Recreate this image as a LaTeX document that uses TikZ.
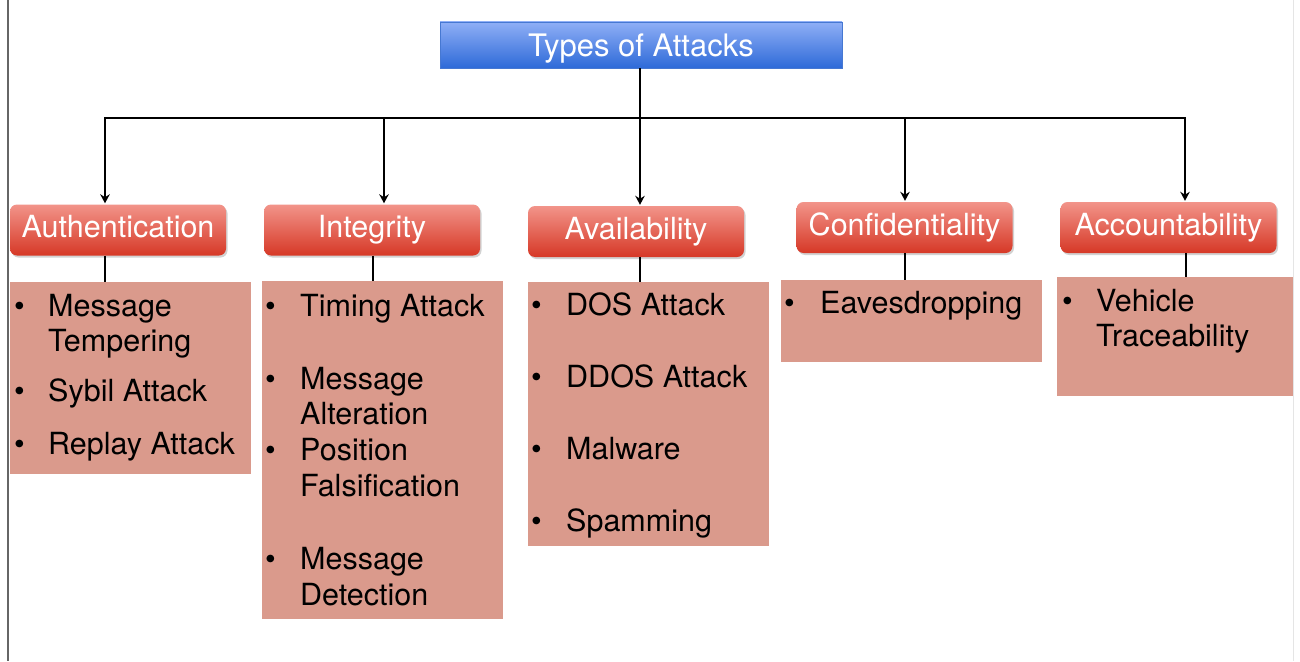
\documentclass[tikz,border=0pt]{standalone}
\usepackage{fontspec}
\setmainfont{TeX Gyre Heros}
\usetikzlibrary{arrows.meta,shadows,calc}
\definecolor{listfill}{RGB}{218,154,140}
\definecolor{redtop}{RGB}{242,148,138}
\definecolor{redbot}{RGB}{214,56,38}
\definecolor{bluetop}{RGB}{143,175,246}
\definecolor{bluebot}{RGB}{46,106,216}
\definecolor{blueedge}{RGB}{70,120,210}
\tikzset{
  titlebox/.style={rectangle, draw=blueedge, line width=0.8pt, top color=bluetop, bottom color=bluebot,
    minimum width=402pt, minimum height=46pt, inner sep=0pt, text=white,
    text height=22.5pt, text depth=0pt, font=\fontsize{31}{36}\selectfont},
  catbox/.style={rectangle, rounded corners=7pt, top color=redtop, bottom color=redbot,
    minimum width=216pt, minimum height=51pt, inner sep=0pt, text=white,
    text height=23pt, text depth=7.5pt, font=\fontsize{30.5}{36}\selectfont,
    drop shadow={shadow xshift=1.5pt, shadow yshift=-2pt, opacity=0.35}},
  listbox/.style={rectangle, fill=listfill, anchor=north west, inner sep=0pt},
  entry/.style={anchor=base west, inner sep=0pt, font=\fontsize{30.5}{36}\selectfont},
  bul/.style={entry},
  link/.style={line width=2.9pt, black},
  arr/.style={link, -{Stealth[length=9pt,width=9.5pt]}},
}
\begin{document}
\begin{tikzpicture}[x=1pt,y=-1pt]
\useasboundingbox (0,0) rectangle (1300,661);
\fill[white] (0,0) rectangle (1300,661);
% page edges
\draw[black!60, line width=1.2pt] (8,0) -- (8,661);
\draw[black!10, line width=1pt] (1293.5,0) -- (1293.5,661);

% root
\node[titlebox] (root) at (641,45) {Types of Attacks};

% categories
\node[catbox] (auth) at (118,230) {Authentication};
\node[catbox] (integ) at (372,230) {Integrity};
\node[catbox] (avail) at (636,231.5) {Availability};
\node[catbox] (conf) at (904.5,227.5) {Confidentiality};
\node[catbox] (acct) at (1168.5,227.5) {Accountability};

% list panels
\node[listbox, minimum width=241pt, minimum height=192pt] (authL) at (10,282) {};
\node[listbox, minimum width=241pt, minimum height=338pt] (integL) at (262,281) {};
\node[listbox, minimum width=241pt, minimum height=264pt] (availL) at (528,282) {};
\node[listbox, minimum width=261pt, minimum height=82pt] (confL) at (781,280) {};
\node[listbox, minimum width=236pt, minimum height=119pt] (acctL) at (1057,277) {};

% tree connectors
\coordinate (hub) at (640,118);
\coordinate (j1) at (105,118);
\coordinate (j2) at (384,118);
\coordinate (j3) at (640,118);
\coordinate (j4) at (905,118);
\coordinate (j5) at (1185,118);
\draw[link] (root.south -| hub) -- (hub);
\draw[link, line cap=rect] (j1) -- (j5);
\draw[arr] (j1) -- ([yshift=1pt]j1 |- auth.north);
\draw[arr] (j2) -- ([yshift=1pt]j2 |- integ.north);
\draw[arr] (j3) -- ([yshift=1pt]j3 |- avail.north);
\draw[arr] (j4) -- ([yshift=1pt]j4 |- conf.north);
\draw[arr] (j5) -- ([yshift=1pt]j5 |- acct.north);

\draw[link] ([xshift=-13pt]auth.south) -- ([xshift=-13pt]auth.south |- authL.north);
\draw[link] ([xshift=1pt]integ.south) -- ([xshift=1pt]integ.south |- integL.north);
\draw[link] ([xshift=4pt]avail.south) -- ([xshift=4pt]avail.south |- availL.north);
\draw[link] ([xshift=0.5pt]conf.south) -- ([xshift=0.5pt]conf.south |- confL.north);
\draw[link] ([xshift=17.5pt]acct.south) -- ([xshift=17.5pt]acct.south |- acctL.north);

% Authentication items
\node[bul] (b11) at (14,316) {\textbullet};
\node[entry] (t11) at (48,316) {Message};
\node[entry] (t11b) at (48,351) {Tempering};
\node[bul] (b12) at (14,401) {\textbullet};
\node[entry] (t12) at (48,401) {Sybil Attack};
\node[bul] (b13) at (14,454) {\textbullet};
\node[entry] (t13) at (48,454) {Replay Attack};

% Integrity items
\node[bul] (b21) at (265,316) {\textbullet};
\node[entry] (t21) at (300,316) {Timing Attack};
\node[bul] (b22) at (265,389) {\textbullet};
\node[entry] (t22) at (300,389) {Message};
\node[entry] (t22b) at (300,424) {Alteration};
\node[bul] (b23) at (265,460) {\textbullet};
\node[entry] (t23) at (300,460) {Position};
\node[entry] (t23b) at (300,496) {Falsification};
\node[bul] (b24) at (265,569) {\textbullet};
\node[entry] (t24) at (300,569) {Message};
\node[entry] (t24b) at (300,605) {Detection};

% Availability items
\node[bul] (b31) at (531,315) {\textbullet};
\node[entry] (t31) at (566,315) {DOS Attack};
\node[bul] (b32) at (531,387) {\textbullet};
\node[entry] (t32) at (566,387) {DDOS Attack};
\node[bul] (b33) at (531,459) {\textbullet};
\node[entry] (t33) at (566,459) {Malware};
\node[bul] (b34) at (531,531) {\textbullet};
\node[entry] (t34) at (566,531) {Spamming};

% Confidentiality items
\node[bul] (b41) at (784,313) {\textbullet};
\node[entry] (t41) at (820,313) {Eavesdropping};

% Accountability items
\node[bul] (b51) at (1062,311) {\textbullet};
\node[entry] (t51) at (1096,311) {Vehicle};
\node[entry] (t51b) at (1096,346) {Traceability};
\end{tikzpicture}
\end{document}
